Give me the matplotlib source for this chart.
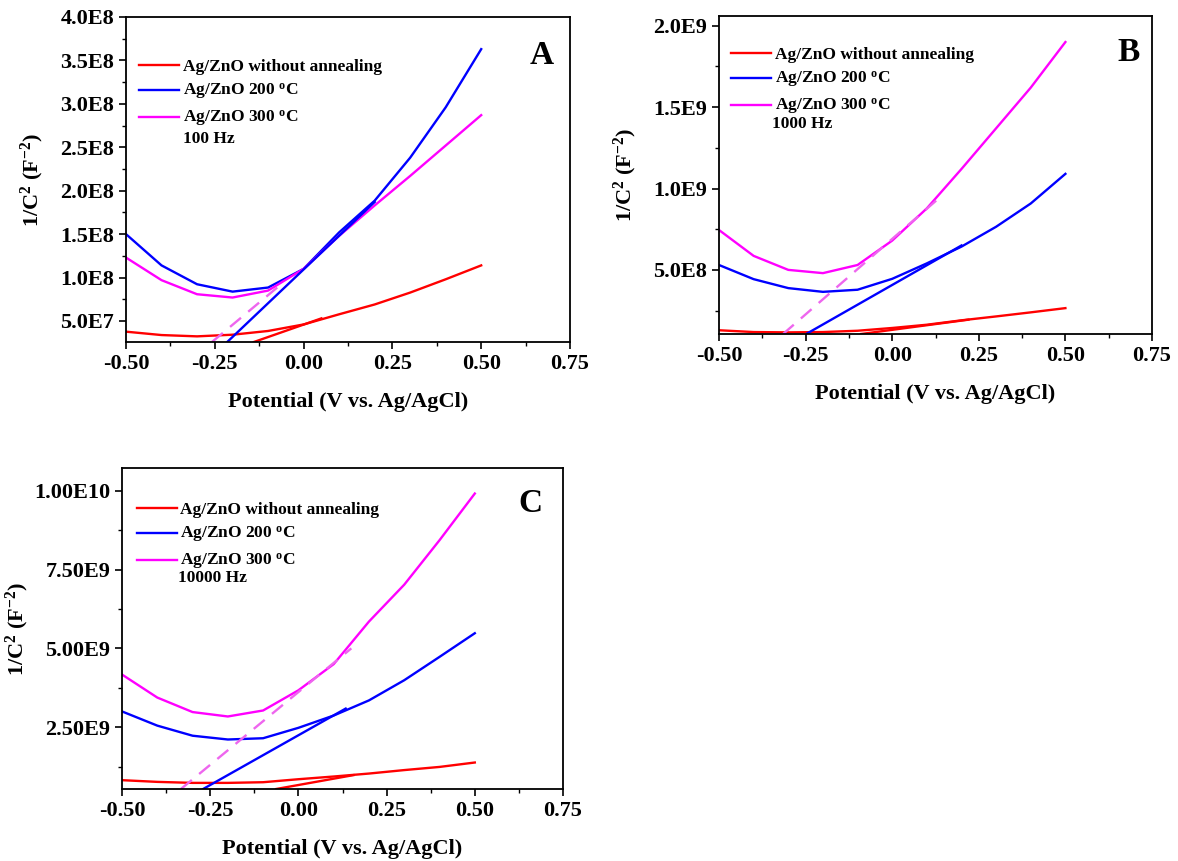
import numpy as np
import matplotlib
matplotlib.use("Agg")
import matplotlib.pyplot as plt
from matplotlib.ticker import MultipleLocator, FixedFormatter, FixedLocator

plt.rcParams['font.family'] = ['Liberation Serif', 'DejaVu Serif']
plt.rcParams['font.weight'] = 'bold'
plt.rcParams['mathtext.fontset'] = 'custom'
plt.rcParams['mathtext.rm'] = 'Liberation Serif:bold'
plt.rcParams['mathtext.it'] = 'Liberation Serif:bold'
plt.rcParams['mathtext.bf'] = 'Liberation Serif:bold'

# potential (V vs Ag/AgCl)
potential = [-0.5, -0.4, -0.3, -0.2, -0.1, 0.0, 0.1, 0.2, 0.3, 0.4, 0.5]

# panel A, 100 Hz
a_none = [3.77e7, 3.38e7, 3.23e7, 3.42e7, 3.85e7, 4.6e7, 5.77e7, 6.9e7, 8.27e7, 9.8e7, 1.14e8]
a_200 = [1.5e8, 1.14e8, 9.23e7, 8.38e7, 8.85e7, 1.1e8, 1.52e8, 1.885e8, 2.38e8, 2.96e8, 3.63e8]
a_300 = [1.23e8, 9.7e7, 8.08e7, 7.7e7, 8.5e7, 1.1e8, 1.48e8, 1.83e8, 2.17e8, 2.52e8, 2.87e8]

# panel B, 1000 Hz
b_none = [1.29e8, 1.18e8, 1.16e8, 1.18e8, 1.26e8, 1.43e8, 1.63e8, 1.9e8, 2.14e8, 2.39e8, 2.65e8]
b_200 = [5.3e8, 4.43e8, 3.88e8, 3.65e8, 3.78e8, 4.45e8, 5.4e8, 6.43e8, 7.65e8, 9.08e8, 1.09e9]
b_300 = [7.45e8, 5.86e8, 5.0e8, 4.8e8, 5.3e8, 6.8e8, 8.78e8, 1.12e9, 1.37e9, 1.62e9, 1.9e9]

# panel C, 10000 Hz
c_none = [8.2e8, 7.66e8, 7.34e8, 7.34e8, 7.55e8, 8.5e8, 9.36e8, 1.03e9, 1.14e9, 1.24e9, 1.38e9]
c_200 = [3.0e9, 2.55e9, 2.23e9, 2.11e9, 2.15e9, 2.48e9, 2.87e9, 3.35e9, 3.99e9, 4.73e9, 5.48e9]
c_300 = [4.17e9, 3.44e9, 2.98e9, 2.84e9, 3.03e9, 3.67e9, 4.5e9, 5.85e9, 7.02e9, 8.43e9, 9.91e9]

# linear fits (x pair, y pair) for each sample
a_fit_none = ([-0.14, 0.05], [2.58e7, 5.3e7])
a_fit_200 = ([-0.215, 0.2], [2.58e7, 1.87e8])
a_fit_300 = ([-0.258, -0.07], [2.58e7, 9.0e7])
b_fit_none = ([-0.09, 0.22], [1.06e8, 1.94e8])
b_fit_200 = ([-0.245, 0.2], [1.1e8, 6.5e8])
b_fit_300 = ([-0.315, 0.14], [1.06e8, 9.5e8])
c_fit_none = ([-0.063, 0.156], [5.4e8, 9.8e8])
c_fit_200 = ([-0.27, 0.134], [5.4e8, 3.09e9])
c_fit_300 = ([-0.333, 0.15], [5.4e8, 5.0e9])

labels = ['Ag/ZnO without annealing', 'Ag/ZnO 200 $^{\\rm o}$C', 'Ag/ZnO 300 $^{\\rm o}$C']
colors = ['#ff0000', '#0000ff', '#ff00ff']
x_ticks = [-0.50, -0.25, 0.00, 0.25, 0.50, 0.75]


def draw_panel(ax, curves, fits, ylim, yticks, ytick_labels, yminor, letter, freq,
               leg_xy, freq_xy, letter_xy, ylab_x):
    for y, c, lab in zip(curves, colors, labels):
        ax.plot(potential, y, color=c, lw=1.7, label=lab)
    ax.plot(*fits[0], color=colors[0], lw=1.7)
    ax.plot(*fits[1], color=colors[1], lw=1.7)
    ax.plot(*fits[2], color='#ee66ee', lw=1.7, ls=(0, (6, 4)))
    ax.set_xlim(-0.5, 0.75)
    ax.set_ylim(*ylim)
    ax.xaxis.set_major_locator(FixedLocator(x_ticks))
    ax.set_xticklabels(['%.2f' % t for t in x_ticks])
    ax.xaxis.set_minor_locator(MultipleLocator(0.125))
    ax.yaxis.set_major_locator(FixedLocator(yticks))
    ax.yaxis.set_major_formatter(FixedFormatter(ytick_labels))
    ax.yaxis.set_minor_locator(MultipleLocator(yminor))
    ax.tick_params(which='major', direction='out', length=5, width=1.2, labelsize=16)
    ax.tick_params(which='minor', direction='out', length=3, width=1.0)
    for s in ax.spines.values():
        s.set_linewidth(1.3)
    ax.set_xlabel('Potential (V vs. Ag/AgCl)', fontsize=16, fontweight='bold', labelpad=13)
    ax.set_ylabel('1/C$^{2}$ (F$^{-2}$)', fontsize=16, fontweight='bold')
    ax.yaxis.set_label_coords(ylab_x, 0.5)
    ax.legend(loc='upper left', bbox_to_anchor=leg_xy, frameon=False,
              fontsize=12.5, handlelength=2.3, handletextpad=0.2, labelspacing=0.4,
              borderaxespad=0, borderpad=0)
    ax.text(freq_xy[0], freq_xy[1], freq, transform=ax.transAxes, fontsize=12.5,
            fontweight='bold', va='center')
    ax.text(letter_xy[0], letter_xy[1], letter, transform=ax.transAxes, fontsize=24,
            fontweight='bold', ha='center', va='center')


fig = plt.figure(figsize=(11.78, 8.61), dpi=100)
ax_a = fig.add_axes([126 / 1178, 1 - 342 / 861, 444 / 1178, 325 / 861])
ax_b = fig.add_axes([719 / 1178, 1 - 334 / 861, 433 / 1178, 318 / 861])
ax_c = fig.add_axes([122 / 1178, 1 - 789 / 861, 441 / 1178, 321 / 861])

draw_panel(ax_a, [a_none, a_200, a_300], [a_fit_none, a_fit_200, a_fit_300],
           (2.58e7, 4.0e8), [5e7, 1e8, 1.5e8, 2e8, 2.5e8, 3e8, 3.5e8, 4e8],
           ['5.0E7', '1.0E8', '1.5E8', '2.0E8', '2.5E8', '3.0E8', '3.5E8', '4.0E8'],
           2.5e7, 'A', '100 Hz', (0.03, 0.87), (0.128, 0.625), (0.937, 0.883), -0.18)
draw_panel(ax_b, [b_none, b_200, b_300], [b_fit_none, b_fit_200, b_fit_300],
           (1.06e8, 2.06e9), [5e8, 1e9, 1.5e9, 2e9],
           ['5.0E8', '1.0E9', '1.5E9', '2.0E9'],
           2.5e8, 'B', '1000 Hz', (0.028, 0.902), (0.122, 0.66), (0.945, 0.884), -0.185)
draw_panel(ax_c, [c_none, c_200, c_300], [c_fit_none, c_fit_200, c_fit_300],
           (5.4e8, 1.072e10), [2.5e9, 5e9, 7.5e9, 1e10],
           ['2.50E9', '5.00E9', '7.50E9', '1.00E10'],
           1.25e9, 'C', '10000 Hz', (0.034, 0.894), (0.127, 0.657), (0.927, 0.89), -0.207)

fig.savefig('out.png', dpi=100)
